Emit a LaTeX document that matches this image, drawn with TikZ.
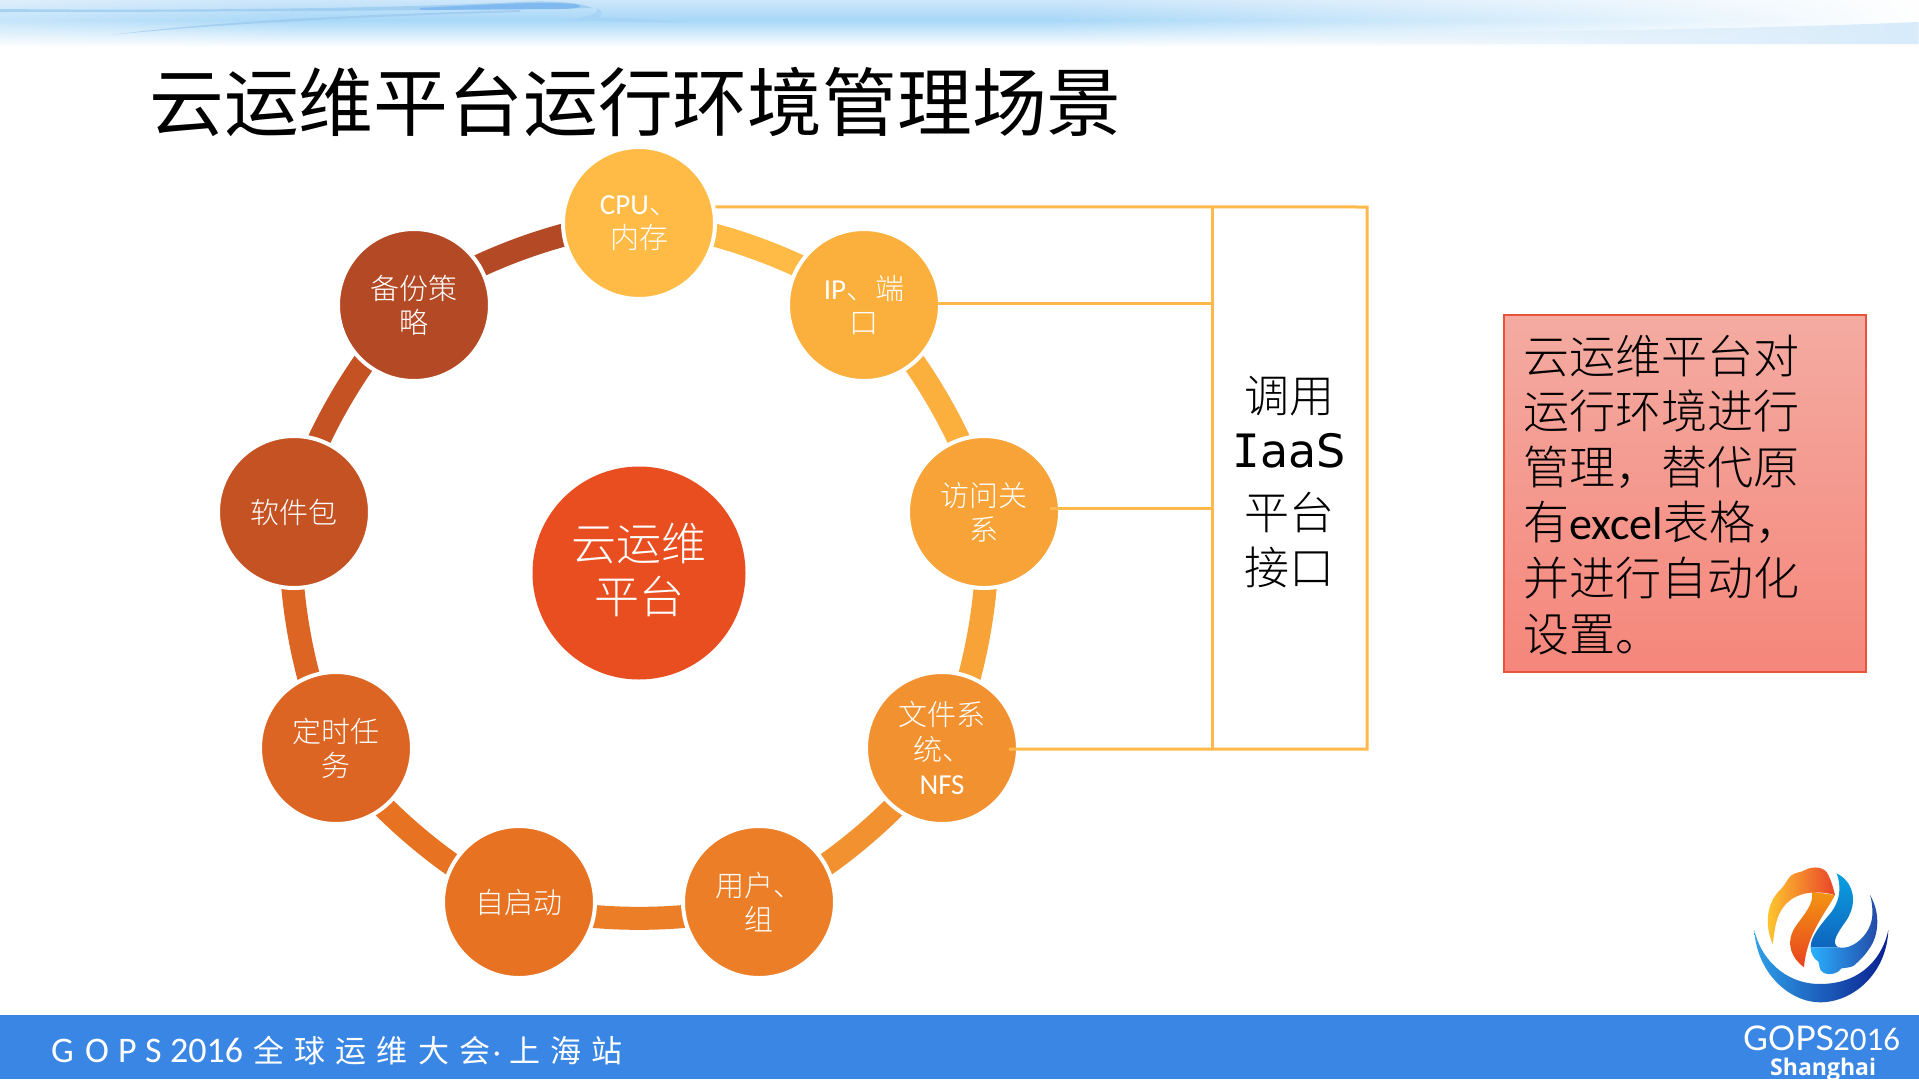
\documentclass[tikz,border=0pt]{standalone}
\usepackage{fontspec}
\setmainfont{Carlito}
\newfontfamily\cjk{Noto Sans CJK SC Light}
\newfontfamily\cjkr{Noto Sans CJK SC}
\newfontfamily\dvs{DejaVu Sans}
\newfontfamily\dvm{DejaVu Sans Mono}
\newfontfamily\latoF{Lato}
\newfontfamily\openF{Open Sans}
\usetikzlibrary{fadings,backgrounds}
\definecolor{cA}{HTML}{FFBB45}
\definecolor{cB}{HTML}{FBAF3D}
\definecolor{cC}{HTML}{F7A337}
\definecolor{cD}{HTML}{F29130}
\definecolor{cE}{HTML}{EB7E27}
\definecolor{cF}{HTML}{E77322}
\definecolor{cG}{HTML}{DC6523}
\definecolor{cH}{HTML}{C55223}
\definecolor{cI}{HTML}{B44A25}
\definecolor{cCentre}{HTML}{E84E20}
\definecolor{footerblue}{HTML}{3A86E5}
\definecolor{linkc}{HTML}{FFB94B}
\definecolor{hTop}{RGB}{205,230,250}
\definecolor{hMid}{RGB}{168,216,248}
\definecolor{sw1}{RGB}{150,200,238}
\definecolor{sw2}{RGB}{120,180,240}
\definecolor{sw3}{RGB}{150,195,235}
\definecolor{sw4}{RGB}{165,210,245}
\definecolor{sw5}{RGB}{215,235,250}
\definecolor{nTop}{RGB}{244,171,161}
\definecolor{nBot}{RGB}{245,134,123}
\definecolor{nEdge}{RGB}{232,83,58}
\definecolor{l1}{RGB}{47,159,232}
\definecolor{l2}{RGB}{41,182,240}
\definecolor{l3}{RGB}{10,31,143}
\definecolor{l4}{RGB}{243,149,19}
\definecolor{l5}{RGB}{232,67,31}
\definecolor{l6}{RGB}{255,203,46}
\definecolor{l7}{RGB}{233,67,42}
\definecolor{l8}{RGB}{10,160,224}
\definecolor{l9}{RGB}{15,100,190}
\definecolor{l10}{RGB}{41,176,255}
\definecolor{l11}{RGB}{35,71,165}
\tikzset{
  ball/.style={circle,fill=#1,draw=white,line width=4pt,minimum size=152pt,inner sep=0pt,
    text=white,align=center,font=\fontsize{29}{34}\selectfont},
  ringseg/.style={draw=#1,line width=23pt,bend left=20,looseness=.68},
  linkline/.style={draw=linkc,line width=3pt,line join=miter},
  stack/.style={inner sep=0pt,text=black},
  foot/.style={text=white,inner sep=0pt,anchor=base west},
}
\newcommand{\cn}[1]{{\cjk #1}}
\begin{document}
\begin{tikzpicture}[x=1pt,y=-1pt]
\useasboundingbox (0,0) rectangle (1919,1079);
\begin{pgfonlayer}{background}
\fill[white] (0,0) rectangle (1919,1079);
\end{pgfonlayer}
% header band
\shade[top color=hTop,bottom color=hMid] (0,0) rectangle (1919,20);
\shade[top color=hMid,bottom color=white] (0,20) rectangle (1919,47);
\fill[white,path fading=west] (1050,-1) rectangle (1920,48);
\fill[white,path fading=east,opacity=.35] (-1,-1) rectangle (300,48);
\fill[sw1,opacity=.7] (0,9) .. controls (200,11) and (400,8) .. (520,2)
  .. controls (560,0) and (585,4) .. (592,8) .. controls (560,9) and (300,12) .. (0,12) -- cycle;
\fill[sw2,opacity=.8] (420,8) .. controls (480,5) and (540,1) .. (575,4)
  .. controls (585,6) and (580,9) .. (560,9) -- (420,10) -- cycle;
\fill[sw3,opacity=.6] (110,35) .. controls (220,21) and (350,15) .. (520,10)
  -- (520,12) .. controls (350,17) and (220,24) .. (110,35) -- cycle;
\fill[sw4,opacity=.7] (560,20) .. controls (585,18) and (600,14) .. (597,8)
  .. controls (608,14) and (598,20) .. (590,17) .. controls (630,18) and (660,20) .. (690,23) .. controls (650,22) and (600,21) .. (560,20) -- cycle;
\fill[sw5,path fading=west] (1300,34) .. controls (1600,32) and (1800,27) .. (1919,22)
  -- (1919,44) -- (1300,44) -- cycle;
% title
\node[anchor=west,inner sep=0pt,font=\fontsize{74.8}{80}\selectfont\cjkr] (title) at (149,102) {云运维平台运行环境管理场景};
% footer
\fill[footerblue] (0,1015) rectangle (1919,1079);
\node[foot,font=\fontsize{36}{40}\selectfont] (fG) at (51,1062) {G};
\node[foot,font=\fontsize{36}{40}\selectfont] (fO) at (85,1062) {O};
\node[foot,font=\fontsize{36}{40}\selectfont] (fP) at (118,1062) {P};
\node[foot,font=\fontsize{36}{40}\selectfont] (fS) at (145,1062) {S};
\node[foot,font=\fontsize{36}{40}\selectfont] (fY) at (170,1062) {2016};
\node[foot,font=\fontsize{31}{34}\selectfont\cjkr\addfontfeature{LetterSpace=33}] (fA) at (253,1062) {全球运维大会};
\node[foot,font=\fontsize{30}{34}\selectfont] (fD) at (493,1062) {·};
\node[foot,font=\fontsize{31}{34}\selectfont\cjkr\addfontfeature{LetterSpace=33}] (fB) at (509,1062) {上海站};
\node[foot,font=\fontsize{34}{36}\selectfont\latoF] (lg) at (1743,1050) {GOPS};
\node[foot,font=\fontsize{33}{36}\selectfont] (ly) at (1833,1050) {2016};
\node[foot,font=\fontsize{23}{26}\selectfont\openF\bfseries] (ls) at (1770,1075.5) {Shanghai};
% logo
\begin{scope}[shift={(1650,840)},x=.3333pt,y=-.3333pt]
\shade[left color=l1,middle color=l2,right color=l3]
  (313,270) .. controls (320,400) and (420,487) .. (510,487) .. controls (610,487) and (710,400) .. (715,270)
  .. controls (700,345) and (640,432) .. (510,432) .. controls (400,432) and (330,350) .. (313,270) -- cycle;
\shade[top color=l4,bottom color=l5]
  (555,165) .. controls (530,215) and (470,280) .. (462,382) .. controls (425,355) and (405,310) .. (435,262)
  .. controls (460,225) and (495,190) .. (485,155) -- cycle;
\shade[left color=l6,right color=l7]
  (368,312) .. controls (345,260) and (345,190) .. (395,145) .. controls (410,130) and (415,105) .. (435,100)
  .. controls (450,95) and (460,95) .. (470,88) .. controls (490,78) and (525,80) .. (535,105)
  .. controls (545,125) and (550,145) .. (555,165) .. controls (500,150) and (440,155) .. (405,195)
  .. controls (375,230) and (375,270) .. (368,312) -- cycle;
\shade[top color=l8,bottom color=l9]
  (560,100) .. controls (610,125) and (625,185) .. (590,240) .. controls (565,275) and (540,310) .. (565,322)
  -- (482,322) .. controls (480,290) and (520,245) .. (545,215) .. controls (570,180) and (575,140) .. (560,100) -- cycle;
\shade[left color=l10,right color=l11]
  (660,165) .. controls (690,215) and (690,285) .. (655,330) .. controls (640,352) and (625,365) .. (610,378)
  .. controls (595,385) and (585,382) .. (575,385) .. controls (565,400) and (540,408) .. (520,398)
  .. controls (505,390) and (510,375) .. (505,365) .. controls (490,355) and (482,340) .. (482,322)
  -- (565,322) .. controls (610,332) and (665,280) .. (667,225) .. controls (668,200) and (665,180) .. (660,165) -- cycle;
\end{scope}
% nodes
\node[ball=cA] (cpu) at (639,223) {CPU\cn{、}\\\cn{内存}};
\node[ball=cB] (ip) at (864,305) {IP\cn{、端}\\\cn{口}};
\node[ball=cC] (acc) at (984,512) {\cn{访问关}\\\cn{系}};
\node[ball=cD,font=\fontsize{29}{34.5}\selectfont] (fs) at (942,748) {\cn{文件系}\\\cn{统、}\\NFS};
\node[ball=cE] (usr) at (759,902) {\cn{用户、}\\\cn{组}};
\node[ball=cF] (aut) at (519,902) {\cn{自启动}};
\node[ball=cG] (tim) at (336,748) {\cn{定时任}\\\cn{务}};
\node[ball=cH] (sft) at (294,512) {\cn{软件包}};
\node[ball=cI] (bak) at (414,305) {\cn{备份策}\\\cn{略}};
\node[circle,fill=cCentre,minimum size=213pt,inner sep=0pt] (hub) at (639,573) {};
\node[inner sep=0pt,text=white,align=center,font=\fontsize{45}{52.5}\selectfont\cjk] (hubtext) at (639,570) {云运维\\平台};
% ring
\begin{pgfonlayer}{background}
\draw[ringseg=cA] (cpu.center) to (ip.center);
\draw[ringseg=cB] (ip.center) to (acc.center);
\draw[ringseg=cC] (acc.center) to (fs.center);
\draw[ringseg=cD] (fs.center) to (usr.center);
\draw[ringseg=cE] (usr.center) to (aut.center);
\draw[ringseg=cF] (aut.center) to (tim.center);
\draw[ringseg=cG] (tim.center) to (sft.center);
\draw[ringseg=cH] (sft.center) to (bak.center);
\draw[ringseg=cI] (bak.center) to (cpu.center);
\end{pgfonlayer}
% connectors
\coordinate (tl) at (1212,207);
\coordinate (tr) at (1367,207);
\coordinate (bl) at (1212,749);
\coordinate (br) at (1367,749);
\coordinate (ipl) at (1212,303);
\coordinate (ips) at (937,303);
\coordinate (acl) at (1212,508);
\coordinate (fss) at (1009,749);
\coordinate (acs) at (1050,508);
\draw[linkline] (cpu.12) -- (tr) -- (br) -- (fss);
\draw[linkline] (tl) -- (bl);
\draw[linkline] (ips) -- (ipl);
\draw[linkline] (acs) -- (acl);
% stack labels
\node[stack,font=\fontsize{45}{50}\selectfont\cjk] (s1) at (1289,396) {调用};
\node[stack,font=\fontsize{46}{50}\selectfont] (s2) at (1289,451) {{\dvm I}{\dvs aaS}};
\node[stack,font=\fontsize{45}{50}\selectfont\cjk] (s3) at (1289,512) {平台};
\node[stack,font=\fontsize{45}{50}\selectfont\cjk] (s4) at (1289,567) {接口};
% note
\node[anchor=north west,inner sep=0pt,minimum width=362pt,minimum height=357pt,
  top color=nTop,bottom color=nBot,draw=nEdge,line width=2pt] (note) at (1503,314) {};
\node[anchor=north west,inner sep=0pt,align=left,font=\fontsize{46}{55.6}\selectfont\cjk] (notetext) at (1523,334.5)
 {云运维平台对\\运行环境进行\\管理，替代原\\有{\rmfamily excel}表格，\\并进行自动化\\设置。};
\end{tikzpicture}
\end{document}
